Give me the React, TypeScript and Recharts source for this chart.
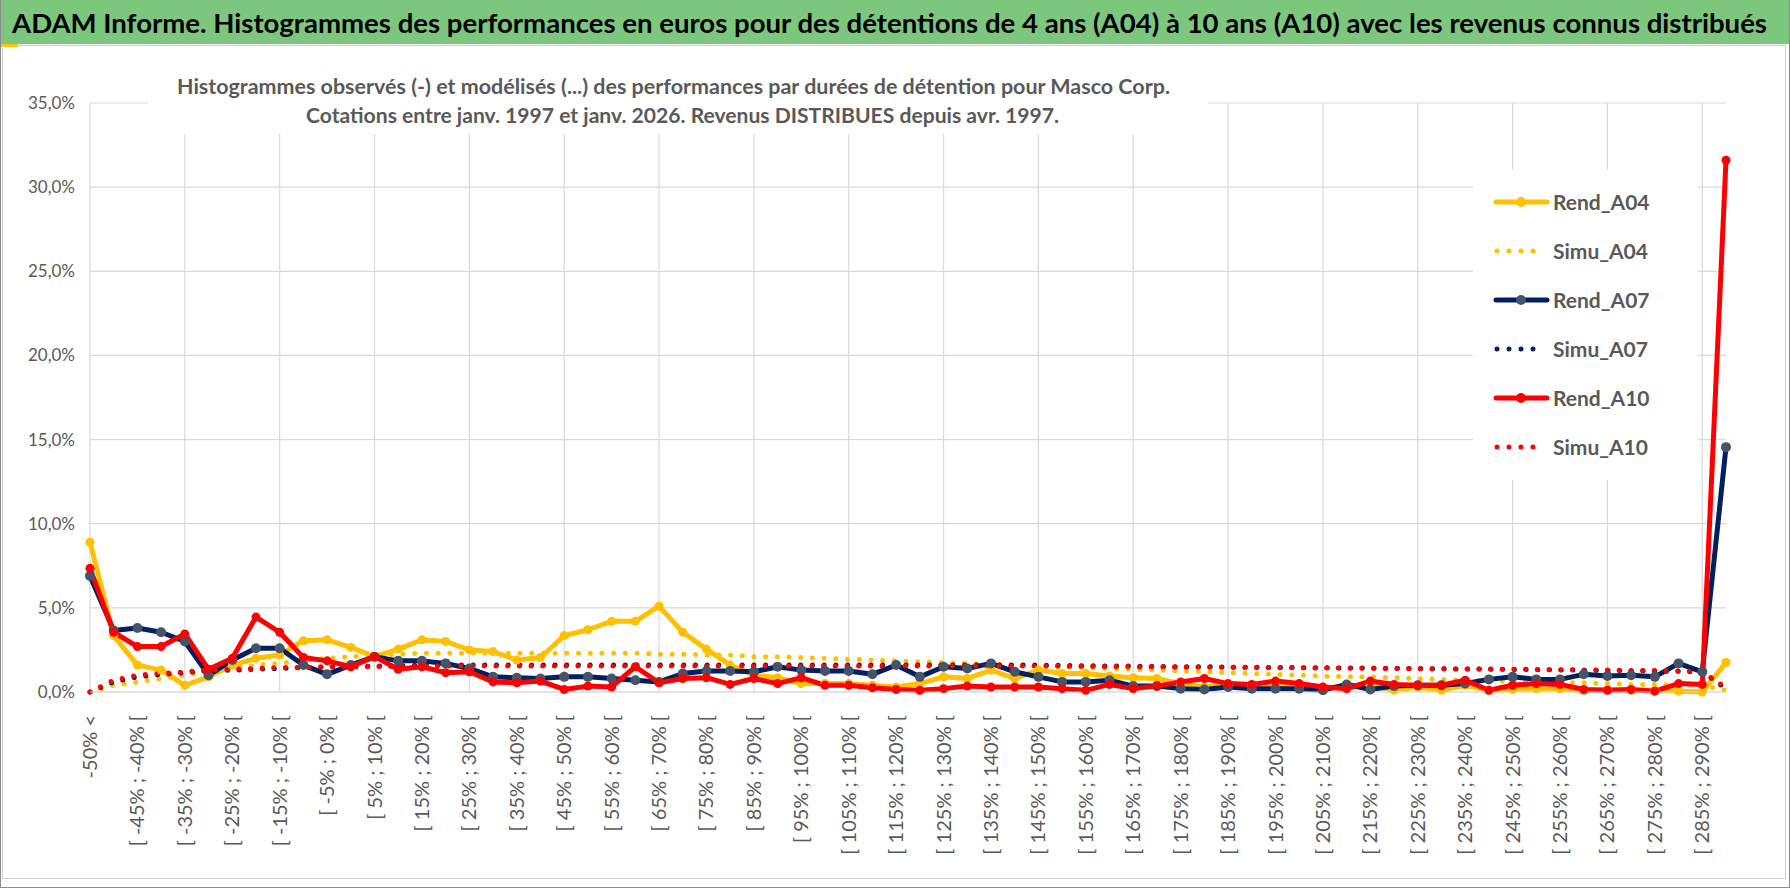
import React from 'react';
import { LineChart, Line, XAxis, YAxis, CartesianGrid } from 'recharts';

const FONT = "Lato, 'Open Sans', sans-serif";
const GREY = '#595959';

// classes de performance (une sur deux est affichée sur l'axe)
const categories = [
  '-50% <', '[ -50% ; -45% [', '[ -45% ; -40% [', '[ -40% ; -35% [', '[ -35% ; -30% [', '[ -30% ; -25% [',
  '[ -25% ; -20% [', '[ -20% ; -15% [', '[ -15% ; -10% [', '[ -10% ; -5% [', '[ -5% ; 0% [', '[ 0% ; 5% [',
  '[ 5% ; 10% [', '[ 10% ; 15% [', '[ 15% ; 20% [', '[ 20% ; 25% [', '[ 25% ; 30% [', '[ 30% ; 35% [',
  '[ 35% ; 40% [', '[ 40% ; 45% [', '[ 45% ; 50% [', '[ 50% ; 55% [', '[ 55% ; 60% [', '[ 60% ; 65% [',
  '[ 65% ; 70% [', '[ 70% ; 75% [', '[ 75% ; 80% [', '[ 80% ; 85% [', '[ 85% ; 90% [', '[ 90% ; 95% [',
  '[ 95% ; 100% [', '[ 100% ; 105% [', '[ 105% ; 110% [', '[ 110% ; 115% [', '[ 115% ; 120% [', '[ 120% ; 125% [',
  '[ 125% ; 130% [', '[ 130% ; 135% [', '[ 135% ; 140% [', '[ 140% ; 145% [', '[ 145% ; 150% [', '[ 150% ; 155% [',
  '[ 155% ; 160% [', '[ 160% ; 165% [', '[ 165% ; 170% [', '[ 170% ; 175% [', '[ 175% ; 180% [', '[ 180% ; 185% [',
  '[ 185% ; 190% [', '[ 190% ; 195% [', '[ 195% ; 200% [', '[ 200% ; 205% [', '[ 205% ; 210% [', '[ 210% ; 215% [',
  '[ 215% ; 220% [', '[ 220% ; 225% [', '[ 225% ; 230% [', '[ 230% ; 235% [', '[ 235% ; 240% [', '[ 240% ; 245% [',
  '[ 245% ; 250% [', '[ 250% ; 255% [', '[ 255% ; 260% [', '[ 260% ; 265% [', '[ 265% ; 270% [', '[ 270% ; 275% [',
  '[ 275% ; 280% [', '[ 280% ; 285% [', '[ 285% ; 290% [', '> 290%',
];

// valeurs en %
const rendA04 = [
  8.9, 3.35, 1.6, 1.3, 0.4, 0.9, 1.6, 2.0, 2.2, 3.05, 3.1, 2.65, 2.1, 2.55,
  3.1, 3.0, 2.5, 2.4, 1.9, 2.05, 3.35, 3.7, 4.2, 4.2, 5.1, 3.55, 2.55, 1.6,
  1.0, 0.85, 0.5, 0.5, 0.5, 0.4, 0.3, 0.5, 0.9, 0.8, 1.3, 0.8, 1.3, 1.1,
  1.1, 0.95, 0.85, 0.8, 0.5, 0.3, 0.4, 0.4, 0.4, 0.3, 0.2, 0.4, 0.4, 0.1,
  0.3, 0.1, 0.4, 0.1, 0.15, 0.2, 0.2, 0.1, 0.15, 0.1, 0.1, 0.05, 0.0, 1.75,
];

const simuA04 = [
  0.0, 0.4, 0.6, 0.8, 1.0, 1.2, 1.4, 1.6, 1.7, 1.9, 2.0, 2.1, 2.2, 2.25,
  2.3, 2.3, 2.3, 2.3, 2.3, 2.3, 2.3, 2.3, 2.3, 2.3, 2.25, 2.25, 2.2, 2.2,
  2.1, 2.1, 2.05, 2.0, 1.95, 1.9, 1.85, 1.8, 1.75, 1.7, 1.65, 1.6, 1.55, 1.5,
  1.45, 1.4, 1.35, 1.3, 1.25, 1.2, 1.15, 1.1, 1.05, 1.0, 0.95, 0.9, 0.9, 0.85,
  0.8, 0.75, 0.7, 0.7, 0.65, 0.6, 0.55, 0.55, 0.5, 0.45, 0.45, 0.4, 0.4, 0.1,
];

const rendA07 = [
  6.9, 3.65, 3.8, 3.55, 3.0, 1.0, 1.9, 2.6, 2.6, 1.6, 1.05, 1.6, 2.1, 1.85,
  1.85, 1.7, 1.4, 0.9, 0.85, 0.8, 0.9, 0.9, 0.8, 0.7, 0.6, 1.1, 1.25, 1.25,
  1.2, 1.5, 1.3, 1.25, 1.25, 1.05, 1.6, 0.9, 1.5, 1.4, 1.7, 1.2, 0.9, 0.6,
  0.6, 0.7, 0.35, 0.35, 0.2, 0.15, 0.3, 0.2, 0.2, 0.2, 0.1, 0.45, 0.15, 0.35,
  0.4, 0.4, 0.5, 0.75, 0.9, 0.75, 0.75, 1.05, 0.95, 1.0, 0.9, 1.7, 1.2, 14.55,
];

const simuA07 = [
  0.0, 0.6, 0.9, 1.05, 1.15, 1.25, 1.3, 1.35, 1.4, 1.45, 1.5, 1.5, 1.55, 1.55,
  1.6, 1.6, 1.6, 1.6, 1.6, 1.6, 1.6, 1.6, 1.6, 1.6, 1.6, 1.6, 1.6, 1.6,
  1.6, 1.6, 1.6, 1.6, 1.6, 1.6, 1.6, 1.6, 1.6, 1.6, 1.6, 1.6, 1.6, 1.58,
  1.56, 1.55, 1.54, 1.52, 1.5, 1.5, 1.48, 1.47, 1.46, 1.45, 1.44, 1.43, 1.42, 1.41,
  1.4, 1.38, 1.37, 1.36, 1.34, 1.33, 1.31, 1.3, 1.28, 1.27, 1.25, 1.23, 1.2, 0.2,
];

const rendA10 = [
  7.35, 3.55, 2.7, 2.7, 3.45, 1.35, 2.0, 4.45, 3.55, 2.05, 1.85, 1.5, 2.1, 1.35,
  1.5, 1.15, 1.2, 0.6, 0.55, 0.65, 0.15, 0.35, 0.3, 1.5, 0.55, 0.8, 0.85, 0.45,
  0.8, 0.5, 0.85, 0.4, 0.4, 0.25, 0.15, 0.1, 0.2, 0.35, 0.3, 0.3, 0.3, 0.2,
  0.1, 0.45, 0.2, 0.35, 0.6, 0.8, 0.5, 0.45, 0.65, 0.5, 0.3, 0.2, 0.65, 0.45,
  0.4, 0.4, 0.7, 0.1, 0.4, 0.5, 0.45, 0.15, 0.1, 0.15, 0.05, 0.5, 0.45, 31.6,
];

const simuA10 = [
  0.0, 0.7, 1.0, 1.1, 1.2, 1.3, 1.35, 1.4, 1.45, 1.45, 1.5, 1.5, 1.52, 1.53,
  1.55, 1.55, 1.55, 1.55, 1.55, 1.55, 1.55, 1.55, 1.55, 1.55, 1.55, 1.55, 1.55, 1.55,
  1.55, 1.55, 1.55, 1.55, 1.55, 1.55, 1.55, 1.55, 1.55, 1.55, 1.55, 1.55, 1.55, 1.54,
  1.53, 1.52, 1.51, 1.5, 1.49, 1.48, 1.47, 1.46, 1.45, 1.44, 1.43, 1.42, 1.41, 1.4,
  1.39, 1.38, 1.37, 1.36, 1.35, 1.34, 1.32, 1.31, 1.3, 1.28, 1.27, 1.25, 1.22, 0.25,
];

const yTicks = [0, 5, 10, 15, 20, 25, 30, 35];

const series = [
  { key: 'Rend_A04', color: '#FFC000', dot: '#FFC000', dotted: false },
  { key: 'Simu_A04', color: '#FFC000', dot: '#FFC000', dotted: true },
  { key: 'Rend_A07', color: '#002060', dot: '#44546A', dotted: false },
  { key: 'Simu_A07', color: '#002060', dot: '#002060', dotted: true },
  { key: 'Rend_A10', color: '#FF0000', dot: '#FF0000', dotted: false },
  { key: 'Simu_A10', color: '#FF0000', dot: '#FF0000', dotted: true },
];

const data = categories.map((cat, i) => ({
  cat,
  Rend_A04: rendA04[i],
  Simu_A04: simuA04[i],
  Rend_A07: rendA07[i],
  Simu_A07: simuA07[i],
  Rend_A10: rendA10[i],
  Simu_A10: simuA10[i],
}));

const fmtPct = (v: number) => `${v.toFixed(1).replace('.', ',')}%`;

function XTick(props: any) {
  const { x, y, payload, index } = props;
  const idx = payload?.index ?? index;
  if (idx % 2 !== 0) return null;
  return (
    <text
      x={x}
      y={y}
      dy="0.35em"
      transform={`rotate(-90 ${x} ${y})`}
      textAnchor="end"
      fill={GREY}
      fontSize={20}
      fontFamily={FONT}
    >
      {payload.value}
    </text>
  );
}

function LegendBox() {
  return (
    <svg width={225} height={310} style={{ background: '#fff', display: 'block' }}>
      {series.map((s, k) => {
        const cy = 32 + k * 49;
        return (
          <g key={s.key}>
            {s.dotted ? (
              <line
                x1={24}
                x2={s.key === 'Simu_A10' ? 72 : 61}
                y1={cy}
                y2={cy}
                stroke={s.color}
                strokeWidth={5}
                strokeDasharray="0 12"
                strokeLinecap="round"
              />
            ) : (
              <g>
                <line x1={23} x2={74} y1={cy} y2={cy} stroke={s.color} strokeWidth={5} strokeLinecap="round" />
                <circle cx={48} cy={cy} r={5} fill={s.dot} />
              </g>
            )}
            <text x={80} y={cy} dy="0.36em" fontSize={21} fontWeight={700} fill={GREY} fontFamily={FONT}>
              {s.key}
            </text>
          </g>
        );
      })}
    </svg>
  );
}

export default function App() {
  const gridCats = categories.filter((_, i) => i % 4 === 0);
  return (
    <div
      style={{
        position: 'relative',
        width: 1790,
        height: 888,
        background: '#fff',
        fontFamily: FONT,
        overflow: 'hidden',
        boxSizing: 'border-box',
      }}
    >
      <style>{'body{margin:0}'}</style>

      {/* bandeau vert */}
      <div style={{ position: 'absolute', left: 0, top: 0, width: 1790, height: 44, background: '#7DC67D' }} />
      <div style={{ position: 'absolute', left: 0, top: 44, width: 18, height: 3, background: '#FFC000' }} />
      <svg style={{ position: 'absolute', left: 0, top: 0, zIndex: 3 }} width={1790} height={44}>
        <text x={12} y={24} dy="0.35em" fontSize={27} fontWeight={700} fill="#000" fontFamily={FONT} textLength={1755} lengthAdjust="spacingAndGlyphs">
          ADAM Informe. Histogrammes des performances en euros pour des détentions de 4 ans (A04) à 10 ans (A10) avec les revenus connus distribués
        </text>
      </svg>

      {/* cadre */}
      <div
        style={{
          position: 'absolute',
          left: 2,
          top: 45,
          width: 1784,
          height: 834,
          border: '1px solid #D0D0D0',
          boxSizing: 'border-box',
        }}
      />
      <div style={{ position: 'absolute', left: 0, top: 0, width: 1790, height: 888, border: '1px solid #8C8C8C', borderTop: 'none', boxSizing: 'border-box' }} />

      <div style={{ position: 'absolute', left: 0, top: 0 }}>
        <LineChart width={1790} height={888} data={data} margin={{ top: 103, right: 64, left: 0, bottom: 0 }}>
          <CartesianGrid
            stroke="#D9D9D9"
            strokeWidth={1.2}
            verticalCoordinatesGenerator={(args: any) => {
              const xa = args?.xAxis;
              if (xa && typeof xa.scale === 'function') {
                return gridCats.map((c) => xa.scale(c));
              }
              const off = args.offset;
              return categories
                .map((_, i) => i)
                .filter((i) => i % 4 === 0)
                .map((i) => off.left + (i * off.width) / (categories.length - 1));
            }}
          />
          <XAxis
            dataKey="cat"
            interval={0}
            height={196}
            tick={<XTick />}
            tickLine={false}
            axisLine={{ stroke: '#D9D9D9' }}
            tickMargin={17}
          />
          <YAxis
            domain={[0, 35]}
            ticks={yTicks}
            width={90}
            tickFormatter={fmtPct}
            tick={{ fill: GREY, fontSize: 17, fontFamily: FONT }}
            tickLine={false}
            axisLine={false}
            tickMargin={9}
          />
          {series.map((s) =>
            s.dotted ? (
              <Line
                key={s.key}
                dataKey={s.key}
                stroke={s.color}
                strokeWidth={5}
                strokeDasharray="0 11.7"
                strokeLinecap="round"
                dot={false}
                activeDot={false}
                isAnimationActive={false}
              />
            ) : (
              <Line
                key={s.key}
                dataKey={s.key}
                stroke={s.color}
                strokeWidth={5}
                strokeLinejoin="round"
                dot={{ r: s.key === 'Rend_A07' ? 5 : 4.5, fill: s.dot, stroke: s.dot, strokeWidth: 0 }}
                activeDot={false}
                isAnimationActive={false}
              />
            )
          )}
        </LineChart>
      </div>

      {/* légende */}
      <div style={{ position: 'absolute', left: 1473, top: 170, zIndex: 2 }}>
        <LegendBox />
      </div>

      {/* titre du graphique */}
      <svg style={{ position: 'absolute', left: 148, top: 62, zIndex: 2 }} width={1060} height={72}>
        <rect x={0} y={0} width={1060} height={72} fill="#fff" />
        <text x={29} y={25} dy="0.35em" fontSize={20} fontWeight={700} fill={GREY} fontFamily={FONT} textLength={993} lengthAdjust="spacingAndGlyphs">
          Histogrammes observés (-) et modélisés (...) des performances par durées de détention pour Masco Corp.
        </text>
        <text x={158} y={54} dy="0.35em" fontSize={20} fontWeight={700} fill={GREY} fontFamily={FONT} textLength={753} lengthAdjust="spacingAndGlyphs">
          Cotations entre janv. 1997 et janv. 2026. Revenus DISTRIBUES depuis avr. 1997.
        </text>
      </svg>
    </div>
  );
}
